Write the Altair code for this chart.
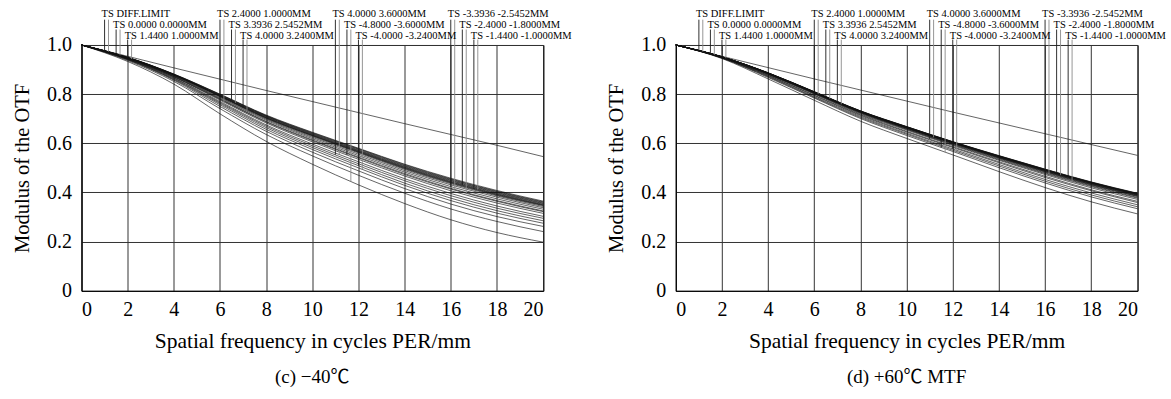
import altair as alt
import pandas as pd
import numpy as np

# ---------------- data ----------------
freq = [0, 2, 4, 6, 8, 10, 12, 14, 16, 18, 20]

labels = ["TS DIFF.LIMIT", "TS 0.0000 0.0000MM", "TS 1.4400 1.0000MM",
          "TS 2.4000 1.0000MM", "TS 3.3936 2.5452MM", "TS 4.0000 3.2400MM",
          "TS 4.0000 3.6000MM", "TS -4.8000 -3.6000MM", "TS -4.0000 -3.2400MM",
          "TS -3.3936 -2.5452MM", "TS -2.4000 -1.8000MM", "TS -1.4400 -1.0000MM"]
label_row = [0, 1, 2, 0, 1, 2, 0, 1, 2, 0, 1, 2]
leader_T_x = [1.0, 1.5, 2.0, 6.0, 6.5, 7.0, 11.0, 11.5, 12.0, 16.0, 16.5, 17.0]
leader_S_x = [1.17, 1.67, 2.17, 6.17, 6.67, 7.17, 11.17, 11.67, 12.17, 16.17, 16.67, 17.17]

# (c) -40 C
diff_c = [1.0, 0.954, 0.907, 0.861, 0.815, 0.770, 0.725, 0.680, 0.636, 0.592, 0.546]
c_T = [
    [1.0, 0.950, 0.882, 0.800, 0.715, 0.645, 0.580, 0.515, 0.458, 0.408, 0.365],
    [1.0, 0.949, 0.881, 0.798, 0.712, 0.641, 0.576, 0.510, 0.453, 0.403, 0.360],
    [1.0, 0.937, 0.852, 0.741, 0.636, 0.549, 0.470, 0.397, 0.333, 0.282, 0.241],
    [1.0, 0.949, 0.880, 0.795, 0.709, 0.637, 0.571, 0.505, 0.448, 0.398, 0.355],
    [1.0, 0.948, 0.877, 0.790, 0.701, 0.628, 0.561, 0.494, 0.436, 0.386, 0.343],
    [1.0, 0.943, 0.865, 0.766, 0.670, 0.590, 0.517, 0.448, 0.387, 0.336, 0.295],
    [1.0, 0.945, 0.870, 0.776, 0.683, 0.606, 0.535, 0.467, 0.407, 0.357, 0.315],
    [1.0, 0.942, 0.862, 0.762, 0.664, 0.583, 0.509, 0.438, 0.377, 0.326, 0.285],
    [1.0, 0.947, 0.874, 0.784, 0.694, 0.619, 0.550, 0.483, 0.424, 0.374, 0.332],
    [1.0, 0.948, 0.878, 0.793, 0.705, 0.633, 0.567, 0.501, 0.443, 0.393, 0.350],
    [1.0, 0.948, 0.878, 0.791, 0.703, 0.631, 0.564, 0.497, 0.439, 0.389, 0.347],
]
c_S = [
    [1.0, 0.950, 0.881, 0.799, 0.713, 0.643, 0.578, 0.513, 0.455, 0.405, 0.362],
    [1.0, 0.949, 0.880, 0.796, 0.710, 0.639, 0.573, 0.508, 0.450, 0.400, 0.357],
    [1.0, 0.940, 0.857, 0.750, 0.649, 0.564, 0.488, 0.416, 0.353, 0.302, 0.262],
    [1.0, 0.949, 0.879, 0.794, 0.707, 0.635, 0.569, 0.503, 0.445, 0.395, 0.352],
    [1.0, 0.947, 0.875, 0.787, 0.698, 0.624, 0.556, 0.489, 0.431, 0.381, 0.338],
    [1.0, 0.944, 0.867, 0.770, 0.675, 0.597, 0.525, 0.456, 0.396, 0.345, 0.303],
    [1.0, 0.933, 0.841, 0.720, 0.608, 0.515, 0.431, 0.355, 0.289, 0.237, 0.198],
    [1.0, 0.941, 0.860, 0.757, 0.657, 0.575, 0.500, 0.429, 0.367, 0.316, 0.275],
    [1.0, 0.946, 0.872, 0.781, 0.689, 0.614, 0.544, 0.477, 0.417, 0.367, 0.325],
    [1.0, 0.946, 0.871, 0.779, 0.687, 0.611, 0.541, 0.473, 0.414, 0.364, 0.322],
    [1.0, 0.948, 0.878, 0.792, 0.704, 0.632, 0.565, 0.499, 0.441, 0.391, 0.348],
]

# (d) +60 C
diff_d = [1.0, 0.954, 0.908, 0.862, 0.817, 0.772, 0.727, 0.683, 0.639, 0.595, 0.551]
d_T = [
    [1.0, 0.952, 0.887, 0.810, 0.732, 0.668, 0.607, 0.550, 0.495, 0.443, 0.397],
    [1.0, 0.952, 0.886, 0.809, 0.731, 0.667, 0.606, 0.549, 0.494, 0.441, 0.395],
    [1.0, 0.950, 0.881, 0.802, 0.722, 0.657, 0.594, 0.534, 0.477, 0.424, 0.377],
    [1.0, 0.952, 0.886, 0.809, 0.730, 0.666, 0.605, 0.547, 0.492, 0.440, 0.394],
    [1.0, 0.951, 0.884, 0.806, 0.727, 0.662, 0.601, 0.542, 0.486, 0.433, 0.387],
    [1.0, 0.949, 0.877, 0.796, 0.716, 0.649, 0.586, 0.525, 0.466, 0.411, 0.364],
    [1.0, 0.947, 0.868, 0.784, 0.701, 0.632, 0.567, 0.501, 0.439, 0.382, 0.334],
    [1.0, 0.948, 0.873, 0.790, 0.709, 0.641, 0.577, 0.514, 0.453, 0.398, 0.350],
    [1.0, 0.949, 0.876, 0.794, 0.713, 0.646, 0.583, 0.521, 0.461, 0.407, 0.359],
    [1.0, 0.952, 0.886, 0.808, 0.730, 0.665, 0.604, 0.546, 0.491, 0.438, 0.392],
    [1.0, 0.951, 0.885, 0.808, 0.729, 0.665, 0.603, 0.545, 0.490, 0.437, 0.391],
]
d_S = [
    [1.0, 0.952, 0.887, 0.810, 0.732, 0.668, 0.606, 0.549, 0.494, 0.442, 0.396],
    [1.0, 0.952, 0.886, 0.809, 0.731, 0.667, 0.605, 0.548, 0.493, 0.441, 0.395],
    [1.0, 0.951, 0.885, 0.807, 0.728, 0.663, 0.602, 0.544, 0.488, 0.435, 0.389],
    [1.0, 0.952, 0.886, 0.808, 0.730, 0.666, 0.604, 0.547, 0.491, 0.439, 0.393],
    [1.0, 0.951, 0.884, 0.805, 0.726, 0.661, 0.599, 0.541, 0.485, 0.432, 0.385],
    [1.0, 0.951, 0.883, 0.805, 0.726, 0.661, 0.599, 0.540, 0.483, 0.430, 0.384],
    [1.0, 0.945, 0.862, 0.775, 0.690, 0.620, 0.553, 0.485, 0.420, 0.362, 0.313],
    [1.0, 0.947, 0.871, 0.787, 0.705, 0.637, 0.572, 0.508, 0.446, 0.390, 0.342],
    [1.0, 0.951, 0.882, 0.803, 0.724, 0.658, 0.596, 0.537, 0.480, 0.427, 0.380],
    [1.0, 0.951, 0.885, 0.807, 0.729, 0.664, 0.603, 0.545, 0.489, 0.437, 0.390],
    [1.0, 0.950, 0.880, 0.800, 0.719, 0.654, 0.591, 0.531, 0.473, 0.419, 0.372],
]

y_ticks = [0, 0.1, 0.2, 0.3, 0.4, 0.5, 0.6, 0.7, 0.8, 0.9, 1.0]

# ---------------- style ----------------
SERIF = "Liberation Serif"
CAP_FONT = "Liberation Serif, Noto Sans CJK SC"
ROW_TEXT_Y = [1.113, 1.069, 1.026]
ROW_LEAD_TOP = [1.103, 1.063, 1.022]
W, H = 461.6, 245.8


def panel(T, S, diff, caption):
    rows = []
    for fi in range(len(T)):
        for kind, arr in (("T", T[fi]), ("S", S[fi])):
            for x, v in zip(freq, arr):
                rows.append({"curve": f"{fi}{kind}", "freq": x, "mtf": v})
    for x, v in zip(freq, diff):
        rows.append({"curve": "diff", "freq": x, "mtf": v})
    curves = pd.DataFrame(rows)

    lead = []
    txt = []
    for li, lab in enumerate(labels):
        r = label_row[li]
        for kind, lx in (("T", leader_T_x[li]), ("S", leader_S_x[li])):
            arr = diff if li == 0 else (T[li - 1] if kind == "T" else S[li - 1])
            lead.append({"lx": lx, "ytop": ROW_LEAD_TOP[r],
                         "ybot": float(np.interp(lx, freq, arr)), "kind": kind})
        txt.append({"tx": leader_T_x[li], "ty": ROW_TEXT_Y[r], "label": lab})
    lead = pd.DataFrame(lead)
    txt = pd.DataFrame(txt)

    xs = alt.Scale(domain=[0, 20], nice=False, zero=False)
    ys = alt.Scale(domain=[0, 1], nice=False)
    xaxis = alt.Axis(values=freq, title="Spatial frequency in cycles PER/mm",
                     grid=True, gridColor="#333333", gridWidth=1, ticks=False, tickSize=0,
                     labelFont=SERIF, labelFontSize=20, labelColor="black", labelPadding=9,
                     titleFont=SERIF, titleFontSize=21.5, titleFontWeight="normal",
                     titleColor="black", titlePadding=11, domainColor="black")
    yaxis = alt.Axis(values=y_ticks,
                     labelExpr="round(datum.value*10) % 2 == 0 ? (datum.value == 0 ? '0' : format(datum.value, '.1f')) : ''",
                     title="Modulus of the OTF",
                     grid=True, gridColor="#333333", gridWidth=1, ticks=False, tickSize=0,
                     labelFont=SERIF, labelFontSize=20, labelColor="black", labelPadding=10,
                     titleFont=SERIF, titleFontSize=20.5, titleFontWeight="normal",
                     titleColor="black", titlePadding=14, domainColor="black")

    lines = alt.Chart(curves).mark_line(color="#111111", strokeWidth=0.65,
                                        interpolate="monotone").encode(
        x=alt.X("freq:Q", scale=xs, axis=xaxis),
        y=alt.Y("mtf:Q", scale=ys, axis=yaxis),
        detail="curve:N",
    )
    rules = alt.Chart(lead).mark_rule(strokeWidth=0.9).encode(
        x=alt.X("lx:Q", scale=xs),
        y=alt.Y("ytop:Q", scale=ys),
        y2="ybot:Q",
        color=alt.Color("kind:N", scale=alt.Scale(domain=["T", "S"],
                                                  range=["#1a1a1a", "#8a8a8a"]),
                        legend=None),
    )
    texts = alt.Chart(txt).mark_text(align="left", baseline="alphabetic", dx=-3,
                                     font=SERIF, fontSize=10.5, color="black").encode(
        x=alt.X("tx:Q", scale=xs),
        y=alt.Y("ty:Q", scale=ys),
        text="label:N",
    )
    return alt.layer(lines, rules, texts).properties(
        width=W, height=H,
        title=alt.TitleParams(caption, orient="bottom", font=CAP_FONT, fontSize=19,
                              fontWeight="normal", color="black", offset=16,
                              anchor="middle", frame="group"),
    )


left = panel(c_T, c_S, diff_c, "(c) \u221240\u2103")
right = panel(d_T, d_S, diff_d, "(d) +60\u2103 MTF")

chart = alt.hconcat(left, right, spacing=132.3, bounds="flush").configure(
    padding={"left": 11.5, "top": 8, "right": 0, "bottom": 0},
    background="white",
).configure_view(stroke="black", strokeWidth=1)

chart.save("out.html", embed_options={"renderer": "svg", "actions": False})
